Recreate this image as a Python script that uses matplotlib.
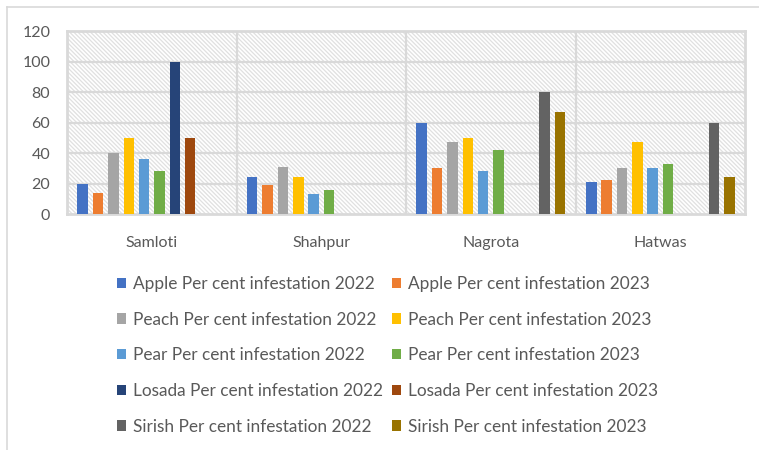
import matplotlib.pyplot as plt
import numpy as np
from matplotlib.lines import Line2D
from matplotlib.patches import Patch

plt.rcParams['font.family'] = ['Lato', 'DejaVu Sans']
plt.rcParams['hatch.color'] = '#e0e0e0'
plt.rcParams['hatch.linewidth'] = 0.9

sites = ['Samloti', 'Shahpur', 'Nagrota', 'Hatwas']

# per cent infestation, 0 = no bar
apple_2022 = [20, 24, 60, 21]
apple_2023 = [14, 19, 30, 22]
peach_2022 = [40, 31, 47, 30]
peach_2023 = [50, 24, 50, 47]
pear_2022 = [36, 13, 28, 30]
pear_2023 = [28, 16, 42, 33]
losada_2022 = [100, 0, 0, 0]
losada_2023 = [50, 0, 0, 0]
sirish_2022 = [0, 0, 80, 60]
sirish_2023 = [0, 0, 67, 24]

series = [apple_2022, apple_2023, peach_2022, peach_2023, pear_2022,
          pear_2023, losada_2022, losada_2023, sirish_2022, sirish_2023]
names = ['Apple Per cent infestation 2022', 'Apple Per cent infestation 2023',
         'Peach Per cent infestation 2022', 'Peach Per cent infestation 2023',
         'Pear Per cent infestation 2022', 'Pear Per cent infestation 2023',
         'Losada Per cent infestation 2022', 'Losada Per cent infestation 2023',
         'Sirish Per cent infestation 2022', 'Sirish Per cent infestation 2023']
colors = ['#4472C4', '#ED7D31', '#A5A5A5', '#FFC000', '#5B9BD5',
          '#70AD47', '#264478', '#9E480E', '#636363', '#997300']

fig = plt.figure(figsize=(7.59, 4.5), dpi=100)
ax = fig.add_axes([0.0883, 0.5244, 0.8933, 0.4066])

# hatched plot area
ax.add_patch(plt.Rectangle((0, 0), 1, 1, transform=ax.transAxes,
                           facecolor='white', edgecolor='#e0e0e0',
                           hatch='\\' * 8, linewidth=0, zorder=0))

x = np.arange(len(sites))
pitch = 0.0905
width = 0.062
for i, vals in enumerate(series):
    ax.bar(x + (i - 4.5) * pitch, vals, width, color=colors[i], zorder=3)

ax.set_xlim(-0.5, 3.5)
ax.set_ylim(0, 120)
ax.set_yticks(range(0, 121, 20))
ax.set_xticks(x)
ax.set_xticklabels(sites)

# grid lines
for v in range(20, 120, 20):
    ax.axhline(v, color='#d9d9d9', linewidth=1.6, zorder=1)
for b in [0.5, 1.5, 2.5]:
    ax.axvline(b, color='#d9d9d9', linewidth=1.6, zorder=1)

for s in ax.spines.values():
    s.set_color('#d9d9d9')
    s.set_linewidth(2)

ax.tick_params(axis='both', length=0, labelsize=11.5, colors='#595959')
ax.tick_params(axis='y', pad=12)
ax.tick_params(axis='x', pad=16)

handles = [Patch(facecolor=c, edgecolor='none') for c in colors]
order = [0, 2, 4, 6, 8, 1, 3, 5, 7, 9]
fig.legend([handles[k] for k in order], [names[k] for k in order],
           ncol=2, loc='upper left', bbox_to_anchor=(117 / 759, 1 - 276 / 450),
           frameon=False, fontsize=12.4, labelcolor='#595959',
           handlelength=0.55, handleheight=0.55, handletextpad=0.4,
           labelspacing=1.14, columnspacing=0.5, borderpad=0, borderaxespad=0)

# outer chart border (top and left visible)
fig.add_artist(Line2D([7 / 759, 1], [1 - 7 / 450, 1 - 7 / 450],
                      transform=fig.transFigure, color='#d9d9d9', linewidth=1.2))
fig.add_artist(Line2D([7 / 759, 7 / 759], [0, 1 - 7 / 450],
                      transform=fig.transFigure, color='#d9d9d9', linewidth=1.2))

plt.savefig('out.png', dpi=100)
